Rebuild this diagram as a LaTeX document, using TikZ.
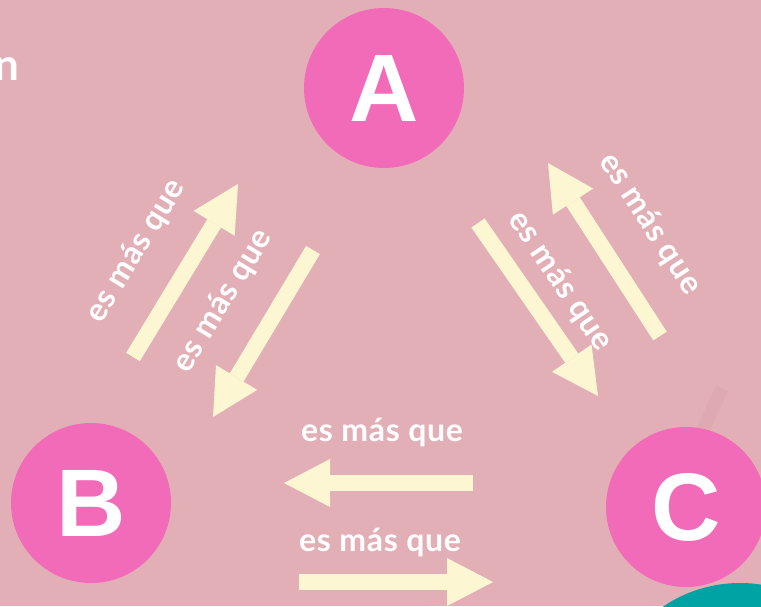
\documentclass[tikz,border=0pt]{standalone}
\usepackage{fontspec}
\setmainfont{Lato}
\newfontfamily\letterfont{Liberation Sans}
\usetikzlibrary{arrows.meta}
\definecolor{bgpink}{HTML}{E2AFB7}
\definecolor{circpink}{HTML}{F26BB8}
\definecolor{cream}{HTML}{FCF6D3}
\definecolor{tealc}{HTML}{00A3A3}
\definecolor{faint}{HTML}{DFA9B2}
\tikzset{
  letter/.style={circle,fill=circpink,minimum size=160pt,inner sep=0pt,
    text=white,font=\letterfont\bfseries\fontsize{96}{96}\selectfont},
  blockarrow/.style={draw=cream,line width=16pt,
    -{Triangle[length=46pt 0 0,width=48pt 0,line width=0pt,fill=cream]}},
  lbl/.style={text=white,inner sep=0pt,
    font=\bfseries\fontsize{32}{32}\selectfont\addfontfeature{LetterSpace=2}}
}
\begin{document}
\begin{tikzpicture}[x=1pt,y=-1pt]
\useasboundingbox (0,0) rectangle (761,606);
\fill[bgpink] (0,0) rectangle (761,606);
\begin{scope}
\clip (0,0) rectangle (761,606);
% faint stroke behind C
\draw[faint,line width=13pt] (722,388) -- (700,436);
\fill[tealc] (740,720) circle[radius=137];
\node[letter] (A) at (384,88) {A};
\node[letter] (B) at (91,503) {B};
\node[letter] (C) at (686,507) {C};
\end{scope}
\node[text=white,inner sep=0pt,anchor=base east,font=\bfseries\fontsize{44}{44}\selectfont] (n) at (20,80) {n};
% arrow coordinates
\coordinate (t1) at (133,357); \coordinate (h1) at (238,184);
\coordinate (t2) at (313,250); \coordinate (h2) at (213,417);
\coordinate (t3) at (478,223); \coordinate (h3) at (598,396);
\coordinate (t4) at (660,336); \coordinate (h4) at (548,163);
\coordinate (t5) at (473,483); \coordinate (h5) at (284,483);
\coordinate (t6) at (299,582); \coordinate (h6) at (493,582);
\draw[blockarrow] (t1) -- (h1);
\draw[blockarrow] (t2) -- (h2);
\draw[blockarrow] (t3) -- (h3);
\draw[blockarrow] (t4) -- (h4);
\draw[blockarrow] (t5) -- (h5);
\draw[blockarrow] (t6) -- (h6);
% labels
\node[lbl,rotate=58.7] (l1) at (136,251) {es más que};
\node[lbl,rotate=58.7] (l2) at (223,301) {es más que};
\node[lbl,rotate=-56] (l3) at (560,281) {es más que};
\node[lbl,rotate=-57] (l4) at (650,224) {es más que};
\node[lbl] (l5) at (382,432) {es más que};
\node[lbl] (l6) at (380,542) {es más que};
\end{tikzpicture}
\end{document}
